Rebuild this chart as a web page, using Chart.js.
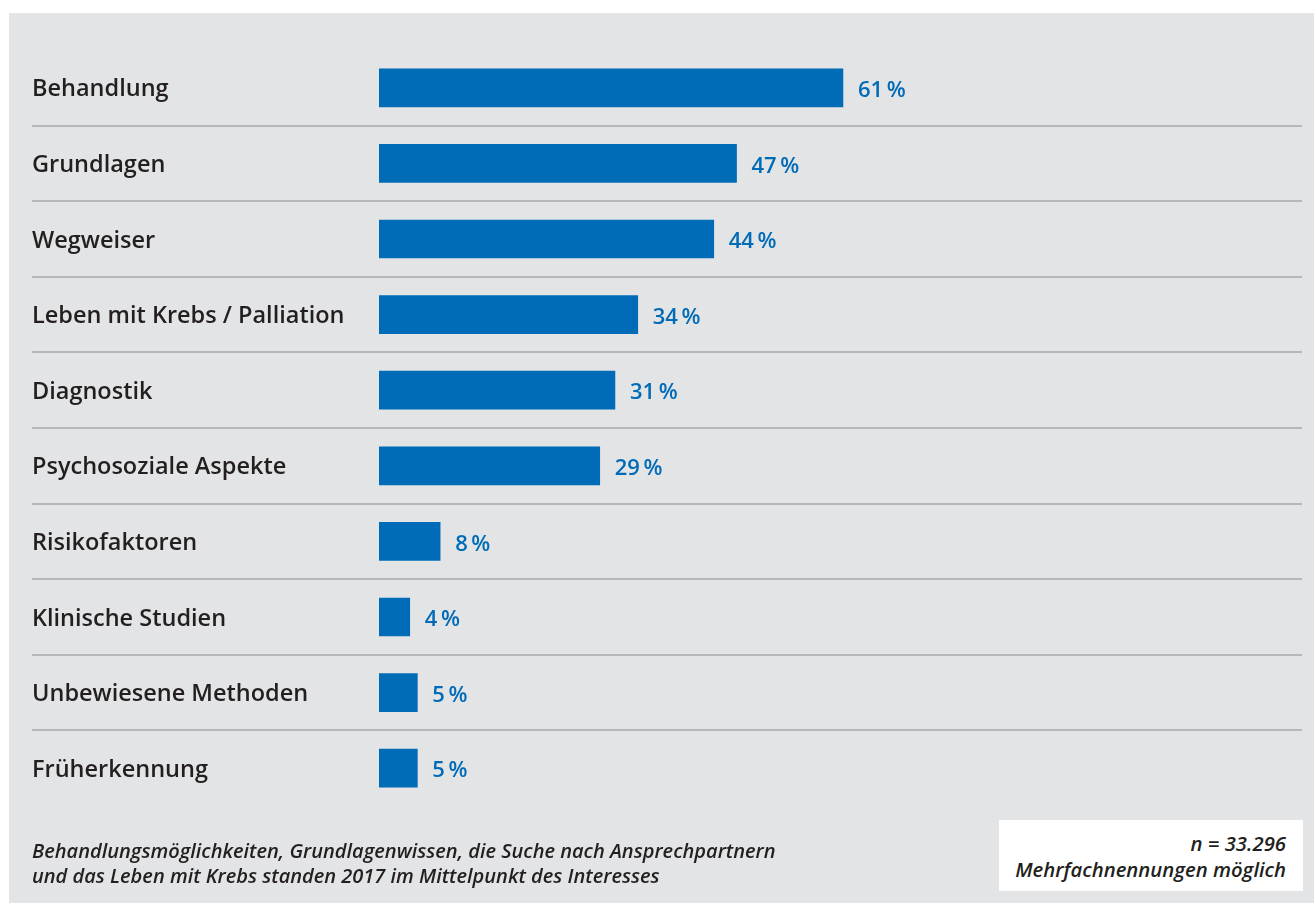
<!DOCTYPE html>
<html>
<head>
<meta charset="utf-8">
<script src="https://cdn.jsdelivr.net/npm/chart.js@4.4.1/dist/chart.umd.min.js"></script>
<style>
  body { margin: 0; background: #fff; width: 1314px; height: 903px; overflow: hidden; position: relative; font-family: "Open Sans", sans-serif; }
  .panel { position: absolute; left: 9px; top: 13px; width: 1305px; height: 890px; background: #e3e4e6; }
  .wrap { position: absolute; left: 0; top: 0; width: 1314px; height: 903px; }
  .note { position: absolute; left: 32px; top: 838px; font-size: 20px; font-style: italic; font-weight: 600; color: #231f20; line-height: 25px; }
  .box { position: absolute; left: 999px; top: 820px; width: 304px; height: 71px; background: #fff; }
  .box div { position: absolute; right: 17px; top: 10px; text-align: right; font-size: 20.3px; font-style: italic; font-weight: 600; color: #231f20; line-height: 26px; }
</style>
</head>
<body>
<div class="panel"></div>
<div class="wrap"><canvas id="myChart"></canvas></div>
<div class="note">Behandlungsmöglichkeiten, Grundlagenwissen, die Suche nach Ansprechpartnern<br>und das Leben mit Krebs standen 2017 im Mittelpunkt des Interesses</div>
<div class="box"><div>n = 33.296<br>Mehrfachnennungen möglich</div></div>
<script>
const categories = ['Behandlung', 'Grundlagen', 'Wegweiser', 'Leben mit Krebs / Palliation', 'Diagnostik',
  'Psychosoziale Aspekte', 'Risikofaktoren', 'Klinische Studien', 'Unbewiesene Methoden', 'Früherkennung'];
const shares = [61, 47, 44, 34, 31, 29, 8, 4, 5, 5];

const blue = '#006bb6';

// value labels right of each bar
const valueLabels = {
  id: 'valueLabels',
  afterDatasetsDraw(chart) {
    const ctx = chart.ctx;
    const meta = chart.getDatasetMeta(0);
    ctx.save();
    ctx.fillStyle = blue;
    ctx.font = '600 22px "Open Sans"';
    ctx.textBaseline = 'middle';
    ctx.textAlign = 'left';
    meta.data.forEach(function(bar, i) {
      ctx.fillText(shares[i] + '\u2009%', bar.x + 15, bar.y + 3);
    });
    ctx.restore();
  }
};

const ctx = document.getElementById('myChart');
new Chart(ctx, {
  type: 'bar',
  data: {
    labels: categories,
    datasets: [{
      data: shares,
      backgroundColor: blue,
      barThickness: 38
    }]
  },
  options: {
    indexAxis: 'y',
    responsive: true,
    maintainAspectRatio: false,
    animation: false,
    layout: { padding: { left: 32, right: 12, top: 50, bottom: 97 } },
    plugins: { legend: { display: false }, tooltip: { enabled: false } },
    scales: {
      x: {
        display: false,
        min: -45.7,
        max: 121.4
      },
      y: {
        border: { display: false },
        grid: {
          drawTicks: false,
          lineWidth: 2,
          color: function(c) {
            // no line above the first row or below the last one
            return (c.type !== 'tick' || c.index === 0) ? 'rgba(0,0,0,0)' : '#b6b7b9';
          }
        },
        ticks: {
          mirror: true,
          padding: 0,
          labelOffset: 2,
          color: '#231f20',
          font: { family: 'Open Sans', size: 23.5, weight: 600 }
        }
      }
    }
  },
  plugins: [valueLabels]
});
</script>
</body>
</html>
